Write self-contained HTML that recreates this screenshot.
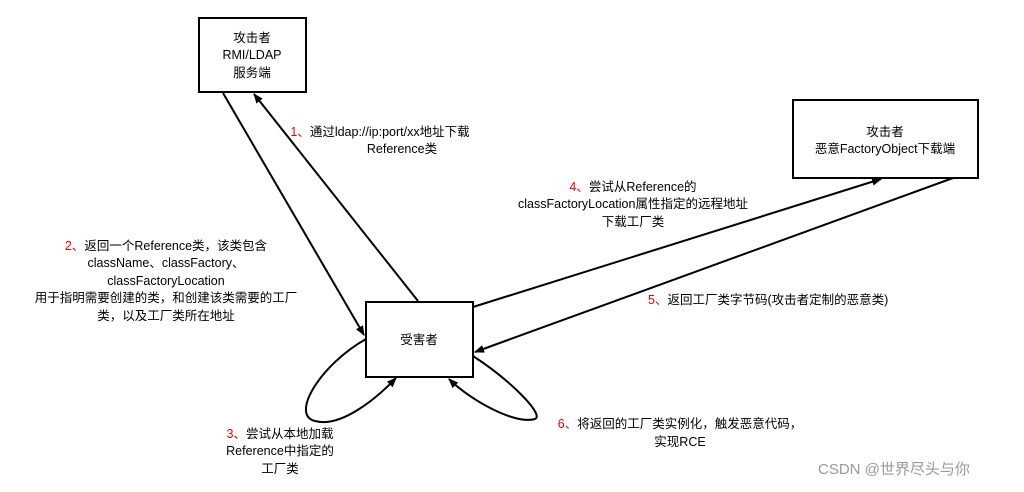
<!DOCTYPE html>
<html><head><meta charset="utf-8"><style>
html,body{margin:0;padding:0;background:#fff}
svg{display:block}
text{font-family:"Liberation Sans","Noto Sans CJK SC",sans-serif;font-size:12.5px;fill:#000}
.r{fill:#e00}
</style></head><body>
<svg width="1024" height="492" viewBox="0 0 1024 492">
<defs><marker id="a" markerWidth="10" markerHeight="8" refX="9" refY="4" orient="auto" markerUnits="userSpaceOnUse"><path d="M0,0 L10,4 L0,8 z" fill="#000"/></marker></defs>
<g fill="none" stroke="#000" stroke-width="2">
<rect x="199" y="18" width="107" height="74"/>
<rect x="366" y="302" width="107" height="75"/>
<rect x="793" y="100" width="185" height="78"/>
<line x1="223" y1="93" x2="364" y2="335" marker-end="url(#a)"/>
<line x1="418" y1="301" x2="254" y2="94" marker-end="url(#a)"/>
<line x1="473" y1="307" x2="881" y2="179" marker-end="url(#a)"/>
<line x1="953" y1="178" x2="475" y2="352" marker-end="url(#a)"/>
<path d="M366,339 C320,365 290,415 315,421 C340,428 375,400 396,378" marker-end="url(#a)"/>
<path d="M473,356 C510,380 545,415 535,419 C515,425 470,400 449,379" marker-end="url(#a)"/>
</g>
<g text-anchor="middle">
<text x="252" y="42">攻击者</text><text x="252" y="59">RMI/LDAP</text><text x="252" y="77">服务端</text>
<text x="419" y="344">受害者</text>
<text x="885" y="136">攻击者</text><text x="885" y="153">恶意FactoryObject下载端</text>
<text x="380" y="136"><tspan class="r">1、</tspan>通过ldap://ip:port/xx地址下载</text><text x="402" y="153">Reference类</text>
<text x="166" y="250"><tspan class="r">2、</tspan>返回一个Reference类，该类包含</text>
<text x="166" y="267">className、classFactory、</text>
<text x="166" y="285">classFactoryLocation</text>
<text x="166" y="302">用于指明需要创建的类，和创建该类需要的工厂</text>
<text x="166" y="320">类，以及工厂类所在地址</text>
<text x="280" y="438"><tspan class="r">3、</tspan>尝试从本地加载</text><text x="280" y="455">Reference中指定的</text><text x="280" y="473">工厂类</text>
<text x="633" y="191"><tspan class="r">4、</tspan>尝试从Reference的</text><text x="633" y="208">classFactoryLocation属性指定的远程地址</text><text x="633" y="226">下载工厂类</text>
<text x="680" y="428"><tspan class="r">6、</tspan>将返回的工厂类实例化，触发恶意代码，</text><text x="680" y="446">实现RCE</text>
</g>
<text x="648" y="304"><tspan class="r">5、</tspan>返回工厂类字节码(攻击者定制的恶意类)</text>
<text x="818" y="474" style="font-size:15px;fill:#999">CSDN @世界尽头与你</text>
</svg>
</body></html>
